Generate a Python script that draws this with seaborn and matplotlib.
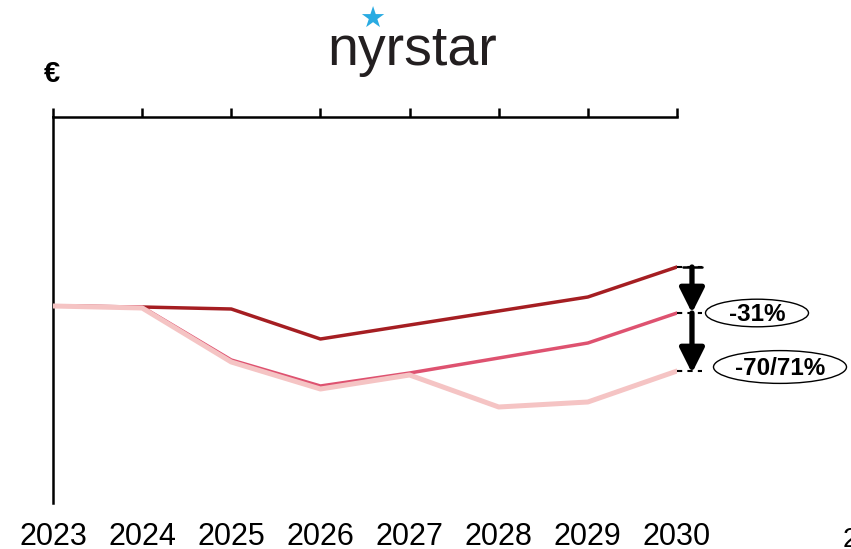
import matplotlib
matplotlib.use("Agg")
import matplotlib.pyplot as plt
import matplotlib.transforms as mtransforms
from matplotlib.patches import Ellipse
import seaborn as sns
import pandas as pd

# ---- data (index, 2023 = 100) ----
years = [2023, 2024, 2025, 2026, 2027, 2028, 2029, 2030]
high = [100, 99.75, 99.25, 91.75, 95.25, 98.75, 102.25, 109.75]
mid = [100, 99.75, 86.5, 80.0, 83.25, 87.0, 90.75, 98.25]
low = [100, 99.5, 86.0, 79.25, 82.75, 74.75, 76.0, 83.75]
labels_pct = ["-31%", "-70/71%"]
tick_labels = [str(y) for y in years]

sns.set_theme(style="white")
plt.rcParams["font.family"] = ["Liberation Sans", "DejaVu Sans"]
plt.rcParams["text.color"] = "black"
plt.rcParams["xtick.color"] = "black"

df = pd.DataFrame({
    "year": years * 3,
    "value": high + mid + low,
    "scenario": ["high"] * 8 + ["mid"] * 8 + ["low"] * 8,
})

fig = plt.figure(figsize=(8.51, 5.49), dpi=100)
W, H = 851, 549
ax = fig.add_axes([53 / W, 1 - 503 / H, 624 / W, 386 / H])

styles = {
    "high": dict(color="#a51e22", lw=2.5, z=3),
    "mid": dict(color="#de5270", lw=2.5, z=4),
    "low": dict(color="#f5c4c4", lw=3.6, z=5),
}
for name, st in styles.items():
    sub = df[df["scenario"] == name]
    sns.lineplot(data=sub, x="year", y="value", color=st["color"],
                 linewidth=st["lw"], ax=ax, zorder=st["z"], legend=False)

ax.set_xlim(2023, 2030)
ax.set_ylim(50.75, 147.25)
ax.set_xlabel("")
ax.set_ylabel("")
ax.set_yticks([])
ax.set_xticks(years)
ax.set_xticklabels(tick_labels, fontsize=22, color="black")
ax.tick_params(axis="x", top=True, bottom=False, labeltop=False,
               labelbottom=True, direction="out", length=6.5, width=1.8,
               color="black", labelcolor="black", pad=7)
for s in ["right", "bottom"]:
    ax.spines[s].set_visible(False)
for s in ["top", "left"]:
    ax.spines[s].set_color("black")
    ax.spines[s].set_linewidth(1.8)

# ---- annotations to the right ----
bt = mtransforms.blended_transform_factory(ax.transAxes, ax.transData)
v_hi, v_mid, v_lo = high[-1], mid[-1], low[-1]
for v in (v_hi, v_mid, v_lo):
    ax.plot([1.0, 1.04], [v, v], transform=bt, color="black", lw=1.5,
            ls=(0, (2.5, 2.5)), clip_on=False, zorder=6)
ax.plot([1.01, 1.04], [v_hi, v_hi], transform=bt, color="black", lw=1.8,
        clip_on=False, zorder=6)
arrow_kw = dict(arrowstyle="-|>,head_length=1.0,head_width=0.5",
                color="black", lw=3.8, shrinkA=0, shrinkB=0,
                mutation_scale=15)
ax.annotate("", xy=(1.024, v_mid), xytext=(1.024, v_hi), xycoords=bt,
            textcoords=bt, arrowprops=arrow_kw, annotation_clip=False)
ax.annotate("", xy=(1.024, v_lo - 0.5), xytext=(1.024, v_mid), xycoords=bt,
            textcoords=bt, arrowprops=arrow_kw, annotation_clip=False)

ell_specs = [
    (labels_pct[0], (757 - 53) / 624, v_mid, 103 / 624, 6.9),
    (labels_pct[1], (780 - 53) / 624, v_lo + 1.0, 133 / 624, 8.2),
]
for txt, xc, yc, w, h in ell_specs:
    e = Ellipse((xc, yc), w, h, transform=bt, fc="white", ec="black",
                lw=1.0, clip_on=False, zorder=6)
    ax.add_patch(e)
    ax.text(xc, yc - 0.4, txt, transform=bt, ha="center", va="center",
            fontsize=17.5, fontweight="bold", color="black", zorder=7,
            clip_on=False)

# ---- header texts ----
fig.text(412.5 / W, 1 - 65 / H, "nyrstar", ha="center", va="baseline",
         fontsize=40, color="#231f20")
fig.text(372 / W, 1 - 20 / H, "\u2605", ha="center", va="center",
         fontsize=21, color="#29abe2", family="DejaVu Sans")
fig.text(52 / W, 1 - 74 / H, "\u20ac", ha="center", va="center",
         fontsize=21, fontweight="bold", color="black")
fig.text(843 / W, 1 - 540 / H, "2", ha="left", va="center", fontsize=20,
         color="black")

fig.savefig("out.png", dpi=100)
